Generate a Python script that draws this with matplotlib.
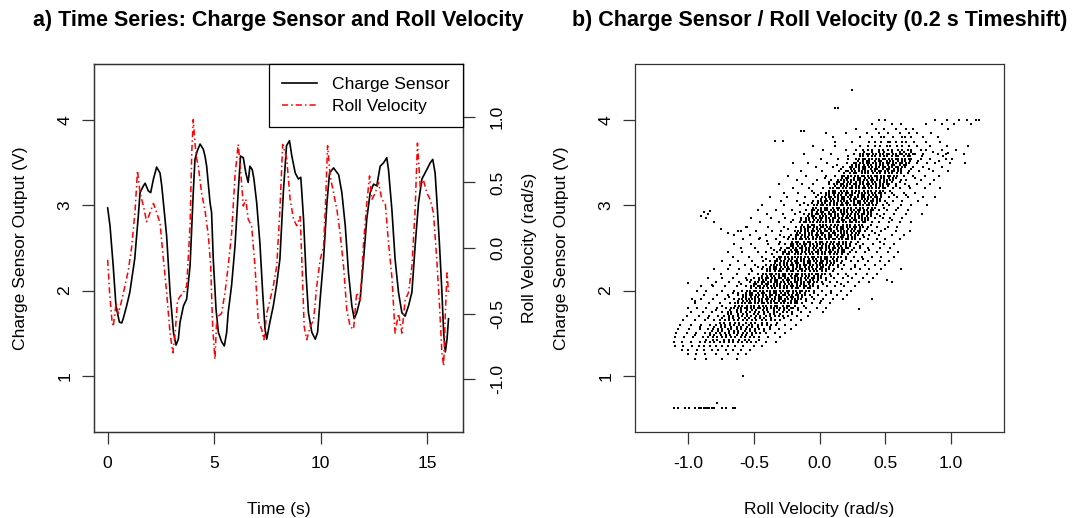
import numpy as np
import matplotlib
matplotlib.use("Agg")
import matplotlib.pyplot as plt
from matplotlib.lines import Line2D

plt.rcParams['font.family'] = ['Liberation Sans', 'DejaVu Sans']
plt.rcParams['axes.unicode_minus'] = False

# ---------------- Panel a: time series ----------------
charge_t = [0.00, 0.11, 0.26, 0.39, 0.55, 0.66, 0.73, 0.89, 1.04, 1.27,
            1.44, 1.52, 1.68, 1.76, 1.91, 2.02, 2.15, 2.30, 2.46, 2.54,
            2.65, 2.77, 2.93, 3.09, 3.21, 3.32, 3.40, 3.56, 3.71, 3.87,
            4.02, 4.10, 4.21, 4.34, 4.49, 4.57, 4.65, 4.81, 4.88, 4.96,
            5.09, 5.20, 5.35, 5.48, 5.59, 5.66, 5.82, 5.98, 6.13, 6.24,
            6.37, 6.49, 6.60, 6.68, 6.79, 6.87, 7.00, 7.15, 7.28, 7.39,
            7.47, 7.62, 7.78, 7.93, 8.09, 8.25, 8.40, 8.54, 8.65, 8.81,
            8.96, 9.07, 9.12, 9.20, 9.32, 9.43, 9.59, 9.75, 9.86, 9.98,
            10.14, 10.30, 10.42, 10.61, 10.85, 11.00, 11.16, 11.31, 11.47, 11.58,
            11.70, 11.86, 12.02, 12.17, 12.33, 12.49, 12.64, 12.80, 12.96, 13.11,
            13.19, 13.35, 13.50, 13.66, 13.82, 13.97, 14.13, 14.29, 14.44, 14.60,
            14.76, 14.99, 15.15, 15.27, 15.38, 15.46, 15.59, 15.70, 15.78, 15.86,
            15.94, 16.01]
charge_v = [2.97, 2.76, 2.29, 1.82, 1.63, 1.62, 1.67, 1.82, 1.98, 2.37,
            2.88, 3.15, 3.23, 3.26, 3.17, 3.15, 3.31, 3.45, 3.38, 3.23,
            2.95, 2.64, 1.98, 1.51, 1.36, 1.43, 1.63, 1.82, 1.90, 2.29,
            3.15, 3.54, 3.64, 3.72, 3.66, 3.58, 3.46, 3.03, 2.92, 2.37,
            1.78, 1.51, 1.40, 1.35, 1.51, 1.74, 2.06, 2.52, 3.15, 3.58,
            3.56, 3.38, 3.27, 3.46, 3.42, 3.31, 3.03, 2.56, 1.98, 1.55,
            1.43, 1.63, 1.82, 2.06, 2.37, 3.15, 3.70, 3.76, 3.58, 3.38,
            3.31, 3.33, 3.15, 2.84, 2.18, 1.74, 1.51, 1.43, 1.51, 1.90,
            2.37, 3.03, 3.38, 3.44, 3.36, 3.15, 2.76, 2.21, 1.82, 1.67,
            1.74, 1.90, 2.37, 2.84, 3.15, 3.25, 3.23, 3.46, 3.50, 3.56,
            3.42, 2.95, 2.37, 1.98, 1.74, 1.70, 1.82, 1.98, 2.52, 3.03,
            3.31, 3.42, 3.50, 3.54, 3.38, 3.07, 2.52, 1.98, 1.51, 1.28,
            1.43, 1.67]

roll_t = [0.00, 0.09, 0.20, 0.26, 0.34, 0.39, 0.50, 0.66, 0.81, 0.97,
          1.13, 1.29, 1.40, 1.52, 1.68, 1.83, 1.99, 2.15, 2.30, 2.46,
          2.62, 2.77, 2.93, 3.06, 3.17, 3.28, 3.40, 3.56, 3.71, 3.87,
          3.95, 4.02, 4.10, 4.18, 4.26, 4.41, 4.57, 4.73, 4.84, 4.93,
          5.04, 5.12, 5.20, 5.35, 5.51, 5.66, 5.82, 5.98, 6.13, 6.24,
          6.37, 6.49, 6.60, 6.76, 6.92, 7.07, 7.23, 7.34, 7.47, 7.62,
          7.78, 7.94, 8.09, 8.22, 8.41, 8.57, 8.73, 8.88, 9.04, 9.12,
          9.23, 9.35, 9.51, 9.67, 9.82, 9.98, 10.14, 10.22, 10.33, 10.45,
          10.61, 10.77, 10.92, 11.08, 11.23, 11.39, 11.55, 11.70, 11.86, 12.02,
          12.17, 12.30, 12.41, 12.57, 12.72, 12.88, 13.04, 13.19, 13.35, 13.50,
          13.66, 13.82, 13.97, 14.13, 14.29, 14.44, 14.55, 14.68, 14.83, 14.99,
          15.15, 15.30, 15.46, 15.59, 15.70, 15.78, 15.86, 15.94, 16.01]
roll_v = [-0.09, -0.34, -0.55, -0.60, -0.50, -0.42, -0.50, -0.40, -0.29, -0.17,
          0.01, 0.29, 0.59, 0.42, 0.32, 0.20, 0.27, 0.34, 0.27, 0.19,
          -0.09, -0.34, -0.65, -0.80, -0.65, -0.40, -0.37, -0.34, -0.29, 0.17,
          0.73, 0.98, 0.80, 0.68, 0.62, 0.42, 0.29, 0.09, -0.14, -0.60,
          -0.85, -0.55, -0.52, -0.50, -0.34, -0.14, 0.11, 0.55, 0.79, 0.60,
          0.32, 0.37, 0.22, 0.17, -0.14, -0.55, -0.62, -0.70, -0.50, -0.40,
          -0.29, -0.14, 0.29, 0.79, 0.68, 0.37, 0.22, 0.17, 0.24, -0.09,
          -0.60, -0.70, -0.60, -0.55, -0.29, -0.09, 0.01, 0.29, 0.78, 0.55,
          0.42, 0.29, 0.11, -0.14, -0.47, -0.60, -0.62, -0.34, -0.40, 0.04,
          0.34, 0.55, 0.37, 0.42, 0.50, 0.37, 0.34, 0.04, -0.22, -0.65,
          -0.50, -0.65, -0.40, -0.34, -0.14, 0.29, 0.80, 0.47, 0.52, 0.42,
          0.37, 0.27, -0.09, -0.45, -0.80, -0.90, -0.50, -0.19, -0.34]

time_ticks = [0, 5, 10, 15]
charge_ticks = [1, 2, 3, 4]
roll_ticks = [-1.0, -0.5, 0.0, 0.5, 1.0]
roll_tick_labels = ["-1.0", "-0.5", "0.0", "0.5", "1.0"]

# ---------------- Panel b: scatter ----------------
# the charge sensor output is quantised; for each level the roll velocities
# (in 1/100 rad/s) read off the cloud are listed
level_charge = [4.00, 3.95, 3.90, 3.85, 3.80, 3.75, 3.70, 3.65, 3.60, 3.55,
                3.50, 3.45, 3.40, 3.35, 3.30, 3.25, 3.20, 3.15, 3.10, 3.05,
                3.00, 2.95, 2.90, 2.85, 2.80, 2.75, 2.70, 2.65, 2.60, 2.55,
                2.50, 2.45, 2.40, 2.35, 2.30, 2.25, 2.20, 2.15, 2.10, 2.05,
                2.00, 1.95, 1.90, 1.85, 1.80, 1.75, 1.70, 1.65, 1.60, 1.55,
                1.50, 1.45, 1.40, 1.35, 1.30, 1.25, 1.20, 1.00]
level_roll = [
    [45, 50, 88, 97, 106, 112, 119, 121],
    [40, 55, 62, 81, 93, 102, 115],
    [28, 43, 49, 58, 66, 71, 98],
    [20, 36, 45, 52, 61, 68, 74, 85],
    [10, 31, 40, 47, 49, 56, 63, 65, 70, 79, 90],
    [12, 25, 38, 42, 47, 52, 54, 58, 63, 66, 72, 81, 92],
    [31, 12, -5, 37, 42, 46, 51, 54, 59, 63, 68, 74, 84, 97, 113],
    [28, 20, 3, 33, 37, 40, 45, 48, 52, 55, 60, 63, 67, 70, 77, 81, 93, 104],
    [26, 9, -12, 31, 33, 36, 38, 41, 43, 46, 48, 51, 53, 56, 58, 61, 63, 66, 68, 71, 73, 79, 90, 96, 110],
    [22, 14, 1, 28, 30, 33, 35, 38, 40, 43, 45, 48, 50, 53, 55, 58, 60, 63, 65, 68, 70, 77, 84, 101],
    [21, 6, -9, -20, 26, 28, 31, 33, 36, 38, 41, 43, 46, 48, 51, 53, 56, 58, 61, 63, 66, 68, 74, 82, 88, 99, 111],
    [18, 10, -3, 23, 25, 28, 30, 33, 35, 38, 40, 43, 45, 48, 50, 53, 55, 58, 60, 63, 65, 71, 79, 93],
    [15, 2, -14, 20, 22, 25, 27, 30, 32, 35, 37, 40, 42, 45, 47, 50, 52, 55, 57, 60, 62, 68, 76, 86, 98],
    [12, 5, -10, -24, 17, 19, 22, 24, 27, 29, 32, 34, 37, 39, 42, 44, 47, 49, 52, 54, 57, 59, 64, 71, 80, 91],
    [9, -2, -17, 14, 16, 19, 21, 24, 26, 29, 31, 34, 36, 39, 41, 44, 46, 49, 51, 54, 56, 62, 66, 77, 87],
    [7, -5, -13, -31, 11, 13, 16, 18, 21, 23, 26, 28, 31, 33, 36, 38, 41, 43, 46, 48, 51, 53, 58, 65, 74, 84],
    [3, -8, -20, 8, 10, 13, 15, 18, 20, 23, 25, 28, 30, 33, 35, 38, 40, 43, 45, 48, 50, 56, 61, 69, 80, 92],
    [1, -4, -16, -27, 5, 7, 10, 12, 15, 17, 20, 22, 25, 27, 30, 32, 35, 37, 40, 42, 45, 47, 50, 55, 64, 73],
    [-3, -11, -25, -38, 2, 4, 7, 9, 12, 14, 17, 19, 22, 24, 27, 29, 32, 34, 37, 39, 42, 44, 47, 53, 59, 67, 79, 88],
    [-5, -17, -29, -1, 1, 4, 6, 9, 11, 14, 16, 19, 21, 24, 26, 29, 31, 34, 36, 39, 41, 44, 46, 50, 56, 63, 75],
    [-9, -15, -27, -44, -4, -2, 1, 3, 6, 8, 11, 13, 16, 18, 21, 23, 26, 28, 31, 33, 36, 38, 41, 43, 48, 53, 62, 70, 82],
    [-10, -21, -33, -47, -6, -4, -1, 1, 4, 6, 9, 11, 14, 16, 19, 21, 24, 26, 29, 31, 34, 36, 39, 41, 45, 51, 58, 67],
    [-12, -19, -28, -40, -8, -6, -3, -1, 2, 4, 7, 9, 12, 14, 17, 19, 22, 24, 27, 29, 32, 34, 37, 39, 44, 49, 57, 66, 78],
    [-14, -26, -37, -52, -10, -8, -5, -3, 0, 2, 5, 7, 10, 12, 15, 17, 20, 22, 25, 27, 30, 32, 35, 37, 42, 48, 54, 63],
    [-15, -22, -31, -45, -12, -10, -7, -5, -2, 0, 3, 5, 8, 10, 13, 15, 18, 20, 23, 25, 28, 30, 33, 35, 40, 45, 53, 61, 70],
    [-18, -27, -39, -56, -14, -12, -9, -7, -4, -2, 1, 3, 6, 8, 11, 13, 16, 18, 21, 23, 26, 28, 31, 33, 37, 44, 52, 59],
    [-19, -29, -36, -48, -62, -16, -14, -11, -9, -6, -4, -1, 1, 4, 6, 9, 11, 14, 16, 19, 21, 24, 26, 29, 31, 35, 40, 47, 58, 69],
    [-22, -30, -41, -53, -18, -16, -13, -11, -8, -6, -3, -1, 2, 4, 7, 9, 12, 14, 17, 19, 22, 24, 27, 29, 33, 38, 45, 55, 64],
    [-24, -33, -46, -58, -20, -18, -15, -13, -10, -8, -5, -3, 0, 2, 5, 7, 10, 12, 15, 17, 20, 22, 25, 27, 31, 37, 44, 50, 61],
    [-26, -31, -39, -52, -65, -22, -20, -17, -15, -12, -10, -7, -5, -2, 0, 3, 5, 8, 10, 13, 15, 18, 20, 23, 28, 33, 41, 49, 57],
    [-29, -37, -49, -60, -25, -23, -20, -18, -15, -13, -10, -8, -5, -3, 0, 2, 5, 7, 10, 12, 15, 17, 20, 22, 26, 31, 37, 46, 54],
    [-32, -41, -47, -59, -70, -28, -26, -23, -21, -18, -16, -13, -11, -8, -6, -3, -1, 2, 4, 7, 9, 12, 14, 17, 19, 23, 28, 35, 44, 52, 60],
    [-35, -44, -54, -66, -31, -29, -26, -24, -21, -19, -16, -14, -11, -9, -6, -4, -1, 1, 4, 6, 9, 11, 14, 16, 20, 26, 32, 40, 47, 57],
    [-38, -43, -51, -62, -74, -34, -32, -29, -27, -24, -22, -19, -17, -14, -12, -9, -7, -4, -2, 1, 3, 6, 8, 11, 13, 17, 24, 29, 37, 46, 53],
    [-41, -49, -57, -68, -37, -35, -32, -30, -27, -25, -22, -20, -17, -15, -12, -10, -7, -5, -2, 0, 3, 5, 8, 10, 14, 19, 27, 35, 42, 50],
    [-44, -52, -61, -70, -80, -40, -38, -35, -33, -30, -28, -25, -23, -20, -18, -15, -13, -10, -8, -5, -3, 0, 2, 5, 7, 11, 17, 24, 31, 38, 47],
    [-47, -54, -63, -75, -43, -41, -38, -36, -33, -31, -28, -26, -23, -21, -18, -16, -13, -11, -8, -6, -3, -1, 2, 4, 8, 14, 20, 28, 36, 44],
    [-50, -56, -66, -74, -85, -46, -44, -41, -39, -36, -34, -31, -29, -26, -24, -21, -19, -16, -14, -11, -9, -6, -4, -1, 1, 5, 11, 18, 25, 33, 41],
    [-53, -61, -69, -79, -49, -47, -44, -42, -39, -37, -34, -32, -29, -27, -24, -22, -19, -17, -14, -12, -9, -7, -4, -2, 2, 8, 13, 22, 30, 38],
    [-56, -63, -72, -81, -90, -52, -50, -47, -45, -42, -40, -37, -35, -32, -30, -27, -25, -22, -20, -17, -15, -12, -10, -7, -5, -1, 6, 12, 19, 27],
    [-59, -65, -74, -86, -93, -55, -53, -50, -48, -45, -43, -40, -38, -35, -33, -30, -28, -25, -23, -20, -18, -15, -13, -10, -8, -4, 2, 9, 16, 24],
    [-62, -70, -78, -88, -58, -56, -53, -51, -48, -46, -43, -41, -38, -36, -33, -31, -28, -26, -23, -21, -18, -16, -13, -11, -7, -1, 5, 13, 21],
    [-65, -72, -81, -90, -97, -61, -59, -56, -54, -51, -49, -46, -44, -41, -39, -36, -34, -31, -29, -26, -24, -21, -19, -16, -14, -10, -4, 3, 10, 18],
    [-68, -76, -84, -95, -64, -62, -59, -57, -54, -52, -49, -47, -44, -42, -39, -37, -34, -32, -29, -27, -24, -22, -19, -17, -13, -6, 0, 8],
    [-71, -78, -86, -93, -100, -67, -65, -62, -60, -57, -55, -52, -50, -47, -45, -42, -40, -37, -35, -32, -30, -27, -25, -22, -20, -16, -10, -2, 5],
    [-74, -82, -89, -98, -70, -67, -63, -60, -56, -53, -49, -46, -42, -39, -35, -32, -28, -25, -21, -14, -7, 3],
    [-77, -84, -92, -101, -73, -69, -66, -62, -59, -55, -52, -48, -45, -41, -38, -34, -31, -28, -24, -17, -9],
    [-80, -87, -95, -104, -76, -72, -69, -65, -62, -58, -55, -51, -48, -44, -41, -37, -34, -30, -22, -14],
    [-83, -90, -98, -106, -79, -75, -72, -68, -65, -61, -58, -54, -51, -47, -44, -40, -37, -33, -26, -18],
    [-85, -91, -99, -108, -81, -77, -74, -70, -67, -63, -60, -56, -53, -49, -46, -42, -38, -31, -22],
    [-87, -94, -101, -109, -83, -79, -76, -72, -69, -65, -62, -58, -55, -51, -48, -45, -41, -34, -26],
    [-89, -96, -103, -110, -85, -81, -78, -74, -71, -67, -64, -60, -57, -53, -50, -46, -39, -30],
    [-91, -98, -105, -111, -87, -83, -80, -76, -73, -69, -66, -62, -59, -55, -52, -48, -41, -33],
    [-110, -104, -97, -92, -88, -83, -79, -74, -70, -64, -58, -50, -44],
    [-105, -100, -93, -88, -82, -77, -71, -66, -60, -53],
    [-100, -94, -87, -79, -70, -62, -56],
    [-95, -86, -74, -63],
    [-58],
]
# levels in between, seen mostly in the dense core of the cloud
mid_level_charge = [3.625, 3.575, 3.525, 3.475, 3.425, 3.375, 3.325, 3.275, 3.225,
                    3.175, 3.125, 3.075, 3.025, 2.975, 2.925, 2.875, 2.825, 2.775, 2.725,
                    2.675, 2.625, 2.575, 2.525, 2.475, 2.425, 2.375, 2.325, 2.275, 2.225,
                    2.175, 2.125, 2.075, 2.025, 1.975, 1.925, 1.875, 1.825, 1.775, 1.725,
                    1.675, 1.625, 1.575, 1.525, 1.475, 1.425]
mid_level_roll = [
    [34, 40, 45, 49, 55, 61, 64, 70, 86],
    [22, 31, 33, 37, 40, 42, 46, 49, 51, 55, 58, 60, 64, 67, 69, 78],
    [29, 33, 36, 38, 42, 45, 47, 51, 54, 56, 60, 63, 65, 69, 75, 91],
    [13, 25, 28, 30, 34, 37, 39, 43, 46, 48, 52, 55, 57, 61, 64, 66],
    [16, 24, 26, 30, 33, 35, 39, 42, 44, 48, 51, 53, 57, 60, 62, 70, 83],
    [19, 23, 26, 28, 32, 35, 37, 41, 44, 46, 50, 53, 55, 59, 62, 67],
    [4, 17, 20, 22, 26, 29, 31, 35, 38, 40, 44, 47, 49, 53, 56, 58, 73],
    [7, 13, 15, 19, 22, 24, 28, 31, 33, 37, 40, 42, 46, 49, 51, 55, 61],
    [12, 16, 19, 21, 25, 28, 30, 34, 37, 39, 43, 46, 48, 52, 58, 68],
    [-6, 7, 10, 12, 16, 19, 21, 25, 28, 30, 34, 37, 39, 43, 46, 48, 54],
    [-1, 5, 7, 11, 14, 16, 20, 23, 25, 29, 32, 34, 38, 41, 43, 47, 57, 66],
    [1, 5, 8, 10, 14, 17, 19, 23, 26, 28, 32, 35, 37, 41, 44, 46],
    [-12, -6, -1, 2, 4, 8, 11, 13, 17, 20, 22, 26, 29, 31, 35, 38, 40, 44, 51],
    [-5, -3, 1, 4, 6, 10, 13, 15, 19, 22, 24, 28, 31, 33, 37, 40, 42, 49, 60],
    [-15, -6, -2, 1, 3, 7, 10, 12, 16, 19, 21, 25, 28, 30, 34, 37, 39],
    [-9, -6, -4, 0, 3, 5, 9, 12, 14, 18, 21, 23, 27, 30, 32, 36, 39, 46],
    [-20, -14, -10, -8, -4, -1, 1, 5, 8, 10, 14, 17, 19, 23, 26, 28, 32, 35, 37, 55],
    [-13, -9, -6, -4, 0, 3, 5, 9, 12, 14, 18, 21, 23, 27, 30, 32, 39],
    [-24, -14, -11, -9, -5, -2, 0, 4, 7, 9, 13, 16, 18, 22, 25, 27, 31, 36, 50],
    [-17, -15, -11, -8, -6, -2, 1, 3, 7, 10, 12, 16, 19, 21, 25, 28, 30, 42],
    [-27, -23, -18, -14, -11, -9, -5, -2, 0, 4, 7, 9, 13, 16, 18, 22, 25, 27, 34],
    [-30, -21, -18, -16, -12, -9, -7, -3, 0, 2, 6, 9, 11, 15, 18, 20, 24, 29, 46],
    [-22, -20, -16, -13, -11, -7, -4, -2, 2, 5, 7, 11, 14, 16, 20, 23, 31],
    [-35, -30, -26, -22, -19, -17, -13, -10, -8, -4, -1, 1, 5, 8, 10, 14, 17, 19, 25, 38],
    [-36, -28, -25, -23, -19, -16, -14, -10, -7, -5, -1, 2, 4, 8, 11, 13, 17, 22],
    [-41, -32, -30, -26, -23, -21, -17, -14, -12, -8, -5, -3, 1, 4, 6, 10, 13, 20, 33],
    [-34, -30, -27, -25, -21, -18, -16, -12, -9, -7, -3, 0, 2, 6, 9, 11, 16],
    [-47, -43, -38, -35, -33, -29, -26, -24, -20, -17, -15, -11, -8, -6, -2, 1, 3, 7, 14, 27],
    [-51, -40, -38, -34, -31, -29, -25, -22, -20, -16, -13, -11, -7, -4, -2, 2, 5, 10],
    [-44, -40, -37, -35, -31, -28, -26, -22, -19, -17, -13, -10, -8, -4, -1, 1, 9, 22],
    [-55, -52, -46, -43, -41, -37, -34, -32, -28, -25, -23, -19, -16, -14, -10, -7, -5, -1, 5],
    [-60, -50, -48, -44, -41, -39, -35, -32, -30, -26, -23, -21, -17, -14, -12, -8, -5, 3, 16],
    [-52, -48, -45, -43, -39, -36, -34, -30, -27, -25, -21, -18, -16, -12, -9, -7, -1],
    [-66, -62, -56, -53, -51, -47, -44, -42, -38, -35, -33, -29, -26, -24, -20, -17, -15, -11, -4, 9],
    [-69, -58, -56, -52, -49, -47, -43, -40, -38, -34, -31, -29, -25, -22, -20, -16, -13, -6],
    [-62, -58, -55, -53, -49, -46, -44, -40, -37, -35, -31, -28, -26, -22, -19, -17, -10, 1],
    [-74, -64, -61, -59, -55, -52, -50, -46, -43, -41, -37, -34, -32, -28, -25, -23, -19, -12],
    [-79, -68, -63, -60, -55, -51, -48, -43, -40, -35, -31, -27, -23, -16],
    [-70, -67, -62, -58, -55, -50, -47, -42, -38, -35, -30, -21],
    [-85, -74, -69, -66, -61, -57, -54, -49, -45, -42, -37, -27],
    [-76, -73, -68, -64, -61, -56, -52, -49, -44, -40, -32],
    [-91, -80, -75, -72, -67, -63, -60, -55, -51, -47, -38],
    [-82, -77, -74, -69, -65, -62, -57, -53, -49, -42],
    [-95, -83, -80, -75, -71, -68, -63, -59, -56, -51],
    [-86, -81, -78, -73, -69, -66, -61, -57, -54, -46],
]
# isolated points outside the main cloud
outlier_roll = [0.25, 0.12, 0.14, -0.34, -0.28, -0.14, -0.12, 0.05,
                -0.90, -0.88, -0.85, -0.83, -0.86, -0.80, -0.75, -0.70, -0.65, -0.60, -0.55, -0.45, -0.40,
                -1.00, -0.82, -0.95, 0.51, 0.55, 0.30, 0.40, 0.62, 0.94, 0.98, 0.96, -0.78,
                -1.11, -1.08, -1.02, -0.99, -0.95, -0.92, -0.90, -0.88, -0.87, -0.86, -0.85,
                -0.84, -0.82, -0.80, -0.74, -0.71, -0.66, -0.64]
outlier_charge = [4.36, 4.14, 4.14, 3.76, 3.76, 3.87, 3.87, 3.85,
                  2.88, 2.92, 2.90, 2.93, 2.85, 2.80, 2.72, 2.68, 2.65, 2.70, 2.75, 2.62, 2.58,
                  2.09, 2.07, 1.88, 2.13, 2.10, 1.78, 1.90, 2.25, 3.58, 3.62, 3.55, 0.68,
                  0.62, 0.62, 0.62, 0.62, 0.62, 0.62, 0.62, 0.62, 0.62, 0.62, 0.62,
                  0.62, 0.62, 0.62, 0.62, 0.62, 0.62, 0.62]


def flatten(levels, rows):
    xs = np.concatenate([np.asarray(r, dtype=float) / 100.0 for r in rows])
    ys = np.concatenate([np.full(len(r), lv) for r, lv in zip(rows, levels)])
    return xs, ys


x_a, y_a = flatten(level_charge, level_roll)
x_b, y_b = flatten(mid_level_charge, mid_level_roll)
sc_roll = np.concatenate([x_a, x_b, outlier_roll])
sc_charge = np.concatenate([y_a, y_b, outlier_charge])

# ---------------- Figure ----------------
W, H = 1072, 518
fig = plt.figure(figsize=(W / 100, H / 100), dpi=100)

def box(x0, y0, x1, y1):
    return [x0 / W, 1 - y1 / H, (x1 - x0) / W, (y1 - y0) / H]

FS = 12.6
LW_AX = 0.9
EDGE = '#333333'

def style(ax, pad=7):
    for s in ax.spines.values():
        s.set_linewidth(LW_AX)
        s.set_color(EDGE)
    ax.tick_params(axis='x', length=8.5, width=LW_AX, labelsize=FS, pad=9, color=EDGE)
    ax.tick_params(axis='y', length=8.5, width=LW_AX, labelsize=FS, pad=pad, color=EDGE)

def rotate_y(ax):
    for lab in ax.get_yticklabels():
        lab.set_rotation(90)
        lab.set_va('center')

ax1 = fig.add_axes(box(94, 64, 463, 432))
ax1.plot(charge_t, charge_v, color='black', lw=1.2)
ax1.set_xlim(-0.642, 16.69)
ax1.set_ylim(0.34, 4.66)
ax1.set_xticks(time_ticks)
ax1.set_yticks(charge_ticks)
style(ax1)
rotate_y(ax1)
ax1.set_xlabel('Time (s)', fontsize=FS)
ax1.xaxis.set_label_coords(0.5, -0.19)
ax1.set_ylabel('Charge Sensor Output (V)', fontsize=FS)
ax1.yaxis.set_label_coords(-0.178, 0.5)

ax1b = ax1.twinx()
ax1b.plot(roll_t, roll_v, color='red', lw=1.1, dashes=(4, 2, 1, 2))
ax1b.set_ylim(-1.404, 1.404)
ax1b.set_yticks(roll_ticks)
ax1b.set_yticklabels(roll_tick_labels)
style(ax1b, pad=11)
rotate_y(ax1b)
ax1b.set_ylabel('Roll Velocity (rad/s)', fontsize=FS)
ax1b.yaxis.set_label_coords(1.16, 0.5)

handles = [Line2D([], [], color='black', lw=1.2),
           Line2D([], [], color='red', lw=1.1, dashes=(4, 2, 1, 2))]
leg = ax1b.legend(handles, ['Charge Sensor', 'Roll Velocity'], loc='upper right',
                  bbox_to_anchor=(1.0, 1.0), borderaxespad=0, fontsize=FS,
                  fancybox=False, framealpha=1, edgecolor='black',
                  handlelength=2.0, handletextpad=0.85, borderpad=0.75, labelspacing=0.35)
leg.get_frame().set_linewidth(LW_AX)

ax2 = fig.add_axes(box(635, 64, 1004, 432))
ax2.plot(sc_roll, sc_charge, linestyle='none', marker='s', markersize=1.85,
         markeredgewidth=0, color='black')
ax2.set_xlim(-1.404, 1.404)
ax2.set_ylim(0.34, 4.66)
ax2.set_xticks(roll_ticks)
ax2.set_xticklabels(roll_tick_labels)
ax2.set_yticks(charge_ticks)
style(ax2)
rotate_y(ax2)
ax2.set_xlabel('Roll Velocity (rad/s)', fontsize=FS)
ax2.xaxis.set_label_coords(0.5, -0.19)
ax2.set_ylabel('Charge Sensor Output (V)', fontsize=FS)
ax2.yaxis.set_label_coords(-0.178, 0.5)

fig.text(278.5 / W, 1 - 26 / H, 'a) Time Series: Charge Sensor and Roll Velocity',
         ha='center', va='baseline', fontsize=15.5, fontweight='bold')
fig.text(819.5 / W, 1 - 26 / H, 'b) Charge Sensor / Roll Velocity (0.2 s Timeshift)',
         ha='center', va='baseline', fontsize=15.5, fontweight='bold')

fig.savefig('out.png', dpi=100)
